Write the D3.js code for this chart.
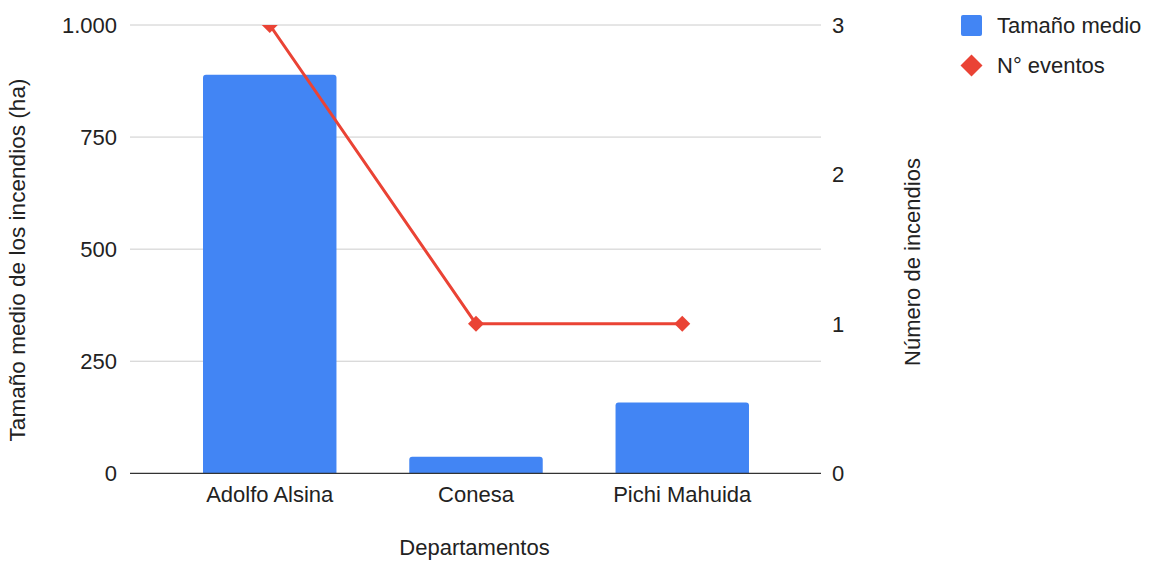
<!DOCTYPE html>
<html>
<head>
<meta charset="utf-8">
<script src="https://cdn.jsdelivr.net/npm/d3@7/dist/d3.min.js"></script>
<style>
  html, body { margin: 0; padding: 0; background: #fff; }
  svg { display: block; font-family: "Liberation Sans", Arial, sans-serif; }
</style>
</head>
<body>
<svg id="chart" width="1153" height="561"></svg>
<script>
const categories = ["Adolfo Alsina", "Conesa", "Pichi Mahuida"];
const tamanoMedio = [889, 37, 158];
const numEventos = [3, 1, 1];
const leftTicks = [0, 250, 500, 750, 1000];
const rightTicks = [0, 1, 2, 3];
const seriesNames = ["Tamaño medio", "N° eventos"];
const xTitle = "Departamentos";
const yLeftTitle = "Tamaño medio de los incendios (ha)";
const yRightTitle = "Número de incendios";

const svg = d3.select("#chart");
const plot = { left: 130, right: 821, top: 25, bottom: 473.3 };
const fs = 22;
const textColor = "#222";

const x = d3.scaleBand().domain(categories).range([166.5, 785.5]).paddingInner(0.353).paddingOuter(0.177);
const yL = d3.scaleLinear().domain([0, 1000]).range([plot.bottom, plot.top]);
const yR = d3.scaleLinear().domain([0, 3]).range([plot.bottom, plot.top]);
const fmt = d3.formatLocale({decimal: ",", thousands: ".", grouping: [3], currency: ["", ""]}).format(",");

// gridlines
svg.append("g").selectAll("line").data(leftTicks.filter(d => d !== 0)).join("line")
  .attr("x1", plot.left).attr("x2", plot.right)
  .attr("y1", d => yL(d)).attr("y2", d => yL(d))
  .attr("stroke", "#cccccc").attr("stroke-width", 1);

// bars with rounded top
const bw = x.bandwidth();
const r = 3;
svg.append("g").selectAll("path").data(categories).join("path")
  .attr("fill", "#4285f4")
  .attr("d", (c, i) => {
    const x0 = x(c), x1 = x0 + bw, y0 = yL(tamanoMedio[i]), yb = yL(0);
    return `M${x0},${yb}V${y0 + r}Q${x0},${y0} ${x0 + r},${y0}H${x1 - r}Q${x1},${y0} ${x1},${y0 + r}V${yb}Z`;
  });

// baseline
svg.append("line").attr("x1", plot.left).attr("x2", plot.right)
  .attr("y1", yL(0)).attr("y2", yL(0)).attr("stroke", "#333").attr("stroke-width", 1.3);

// clip for line
svg.append("clipPath").attr("id", "clip").append("rect")
  .attr("x", plot.left - 20).attr("y", plot.top).attr("width", plot.right - plot.left + 40).attr("height", plot.bottom - plot.top + 20);

const lineG = svg.append("g").attr("clip-path", "url(#clip)");
const cx = c => x(c) + bw / 2;
lineG.append("path")
  .datum(categories)
  .attr("fill", "none").attr("stroke", "#ea4335").attr("stroke-width", 3).attr("stroke-linejoin", "round")
  .attr("d", d3.line().x(c => cx(c)).y((c, i) => yR(numEventos[i])));
lineG.selectAll("path.pt").data(categories).join("path").attr("class", "pt")
  .attr("fill", "#ea4335")
  .attr("d", (c, i) => { const px = cx(c), py = yR(numEventos[i]), s = 8; return `M${px},${py - s}L${px + s},${py}L${px},${py + s}L${px - s},${py}Z`; });

// left axis labels
svg.append("g").selectAll("text").data(leftTicks).join("text")
  .attr("x", 117).attr("y", d => yL(d)).attr("dy", "0.36em")
  .attr("text-anchor", "end").attr("font-size", fs).attr("fill", textColor)
  .text(d => fmt(d));

// right axis labels
svg.append("g").selectAll("text").data(rightTicks).join("text")
  .attr("x", 832).attr("y", d => yR(d)).attr("dy", "0.36em")
  .attr("text-anchor", "start").attr("font-size", fs).attr("fill", textColor)
  .text(d => d);

// category labels
svg.append("g").selectAll("text").data(categories).join("text")
  .attr("x", c => cx(c)).attr("y", 502)
  .attr("text-anchor", "middle").attr("font-size", fs).attr("fill", textColor)
  .text(c => c);

// axis titles
svg.append("text").attr("x", 474.5).attr("y", 555).attr("text-anchor", "middle")
  .attr("font-size", fs).attr("fill", textColor).text(xTitle);
svg.append("text").attr("transform", "translate(24.5,260) rotate(-90)").attr("text-anchor", "middle")
  .attr("font-size", 22.6).attr("fill", textColor).text(yLeftTitle);
svg.append("text").attr("transform", "translate(920,262) rotate(-90)").attr("text-anchor", "middle")
  .attr("font-size", fs).attr("fill", textColor).text(yRightTitle);

// legend
const lg = svg.append("g");
lg.append("rect").attr("x", 961).attr("y", 15).attr("width", 21).attr("height", 21).attr("rx", 2).attr("fill", "#4285f4");
lg.append("path").attr("fill", "#ea4335")
  .attr("d", () => { const px = 971.5, py = 65.5, s = 11; return `M${px},${py - s}L${px + s},${py}L${px},${py + s}L${px - s},${py}Z`; });
lg.selectAll("text").data(seriesNames).join("text")
  .attr("x", 997).attr("y", (d, i) => 33 + i * 39.5)
  .attr("font-size", fs).attr("fill", textColor).text(d => d);
</script>
</body>
</html>
